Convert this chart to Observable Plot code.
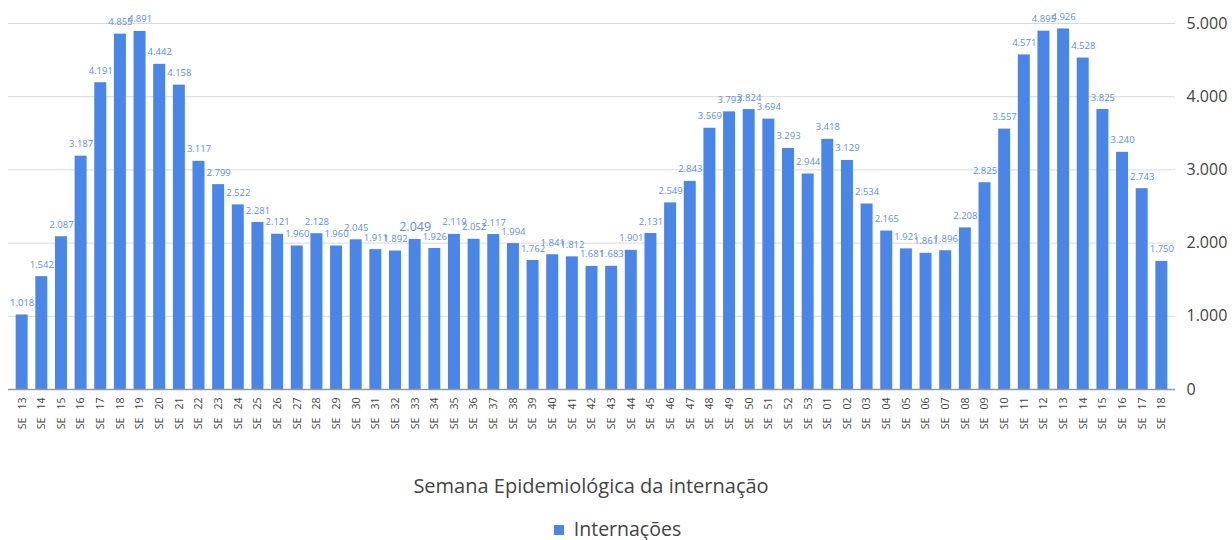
<!DOCTYPE html>
<html>
<head>
<meta charset="utf-8">
<script src="https://cdn.jsdelivr.net/npm/d3@7"></script>
<script src="https://cdn.jsdelivr.net/npm/@observablehq/plot@0.6"></script>
<style>
  body { margin: 0; background: #fff; font-family: "Open Sans", sans-serif; }
  #title { position: absolute; left: 0; width: 1182px; top: 472px; text-align: center; font-size: 20px; line-height: 28px; color: #444; }
  #legend { position: absolute; left: 0; width: 1235px; top: 516px; text-align: center; font-size: 19.5px; line-height: 26px; color: #444; }
  #legend span.sw { display: inline-block; width: 10px; height: 10px; background: #4a86e8; margin-right: 10px; vertical-align: 1px; }
</style>
</head>
<body>
<div id="chart"></div>
<div id="title">Semana Epidemiológica da internação</div>
<div id="legend"><span class="sw"></span>Internações</div>
<script>
const weeks = [
  "SE 13","SE 14","SE 15","SE 16","SE 17","SE 18","SE 19","SE 20","SE 21","SE 22",
  "SE 23","SE 24","SE 25","SE 26","SE 27","SE 28","SE 29","SE 30","SE 31","SE 32",
  "SE 33","SE 34","SE 35","SE 36","SE 37","SE 38","SE 39","SE 40","SE 41","SE 42",
  "SE 43","SE 44","SE 45","SE 46","SE 47","SE 48","SE 49","SE 50","SE 51","SE 52",
  "SE 53","SE 01","SE 02","SE 03","SE 04","SE 05","SE 06","SE 07","SE 08","SE 09",
  "SE 10","SE 11","SE 12","SE 13 ","SE 14 ","SE 15 ","SE 16 ","SE 17 ","SE 18 "
];
const internacoes = [
  1018,1542,2087,3187,4191,4855,4891,4442,4158,3117,
  2799,2522,2281,2121,1960,2128,1960,2045,1911,1892,
  2049,1926,2119,2052,2117,1994,1762,1841,1812,1681,
  1683,1901,2131,2549,2843,3569,3793,3824,3694,3293,
  2944,3418,3129,2534,2165,1921,1861,1896,2208,2825,
  3557,4571,4895,4926,4528,3825,3240,2743,1750
];
const yTicks = [0,1000,2000,3000,4000,5000];

const data = weeks.map((w,i) => ({week: w, value: internacoes[i]}));
const fmt = d3.formatLocale({decimal: ",", thousands: ".", grouping: [3], currency: ["",""]}).format(",d");

const chart = Plot.plot({
  width: 1232,
  height: 460,
  marginLeft: 8,
  marginRight: 57,
  marginTop: 23,
  marginBottom: 71,
  style: {fontFamily: "Open Sans, sans-serif", background: "#fff"},
  x: {type: "band", domain: weeks, padding: 0.39},
  y: {domain: [0, 5000]},
  marks: [
    Plot.gridY(yTicks, {stroke: "#d9d9d9", strokeOpacity: 1}),
    Plot.barY(data, {x: "week", y: "value", fill: "#4a86e8"}),
    Plot.ruleY([0], {stroke: "#999", strokeWidth: 1.5}),
    Plot.text(data, {
      x: "week", y: "value", text: d => fmt(d.value),
      lineAnchor: "bottom", dy: -9,
      fill: "#5a8fe9",
      fontSize: d => d.week === "SE 33" ? 12.5 : 9.5
    }),
    Plot.axisX({
      tickRotate: -90, tickSize: 0, tickPadding: 8, fontSize: 10.5, fill: "#444",
      tickFormat: d => d.trim().replace(" ", "\u00a0\u00a0\u00a0"),
      label: null
    }),
    Plot.axisY(yTicks, {
      anchor: "right", tickSize: 0, tickPadding: 11, fontSize: 16, fill: "#444",
      tickFormat: fmt, label: null, textAnchor: "start"
    })
  ]
});
document.getElementById("chart").appendChild(chart);
</script>
</body>
</html>
